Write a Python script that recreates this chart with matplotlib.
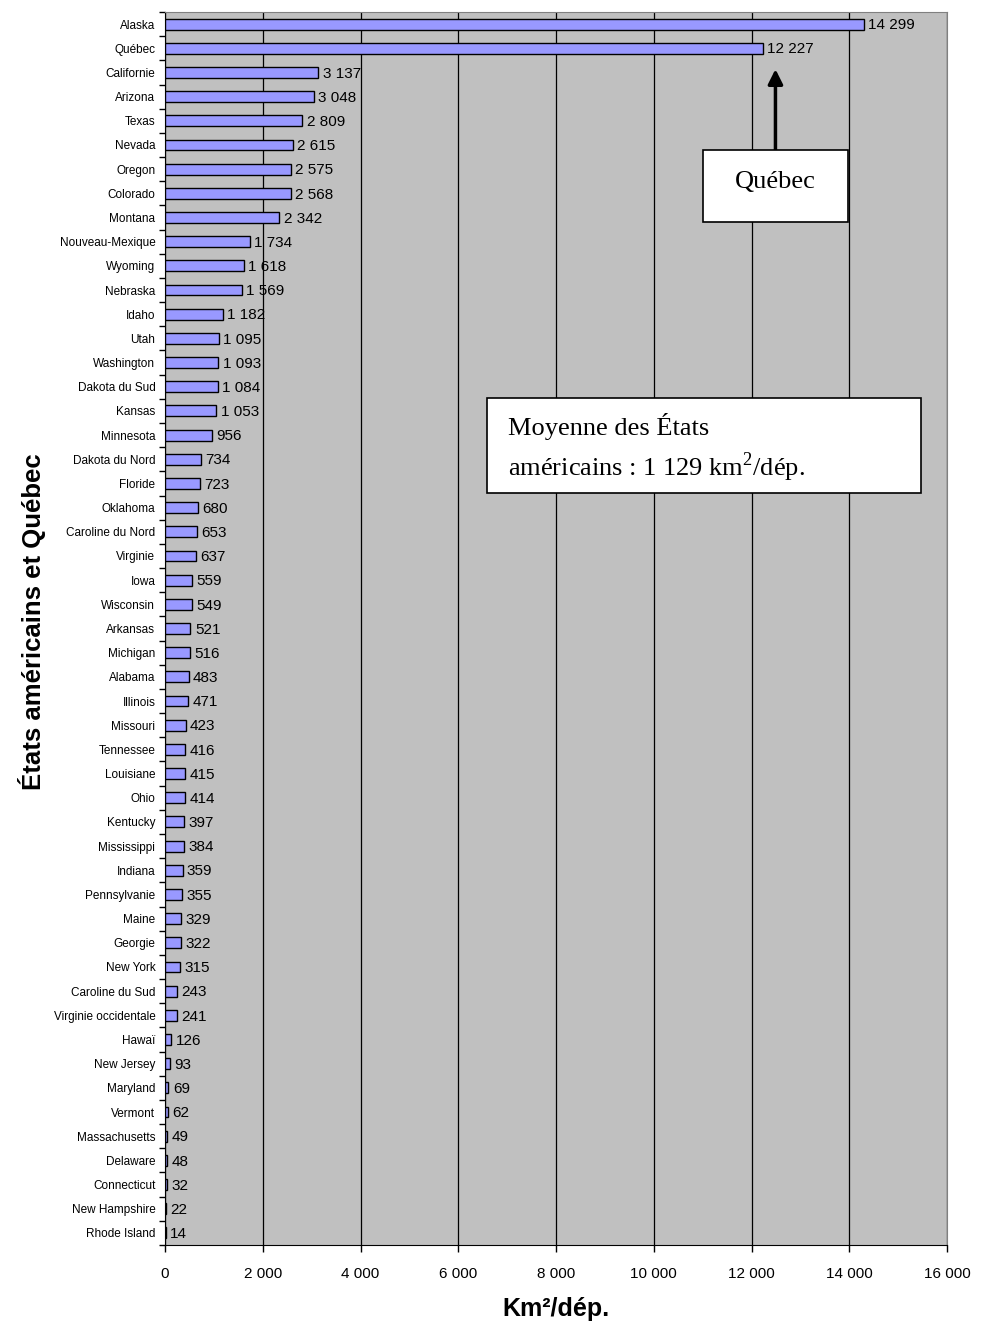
import matplotlib.pyplot as plt
import numpy as np
from matplotlib.patches import Rectangle

states = ["Alaska", "Québec", "Californie", "Arizona", "Texas", "Nevada", "Oregon",
          "Colorado", "Montana", "Nouveau-Mexique", "Wyoming", "Nebraska", "Idaho",
          "Utah", "Washington", "Dakota du Sud", "Kansas", "Minnesota", "Dakota du Nord",
          "Floride", "Oklahoma", "Caroline du Nord", "Virginie", "Iowa", "Wisconsin",
          "Arkansas", "Michigan", "Alabama", "Illinois", "Missouri", "Tennessee",
          "Louisiane", "Ohio", "Kentucky", "Mississippi", "Indiana", "Pennsylvanie",
          "Maine", "Georgie", "New York", "Caroline du Sud", "Virginie occidentale",
          "Hawaï", "New Jersey", "Maryland", "Vermont", "Massachusetts", "Delaware",
          "Connecticut", "New Hampshire", "Rhode Island"]
km2_per_dep = [14299, 12227, 3137, 3048, 2809, 2615, 2575, 2568, 2342, 1734, 1618,
               1569, 1182, 1095, 1093, 1084, 1053, 956, 734, 723, 680, 653, 637, 559,
               549, 521, 516, 483, 471, 423, 416, 415, 414, 397, 384, 359, 355, 329,
               322, 315, 243, 241, 126, 93, 69, 62, 49, 48, 32, 22, 14]
x_ticks = [0, 2000, 4000, 6000, 8000, 10000, 12000, 14000, 16000]
us_mean = 1129


def fmt(v):
    return f"{v:,}".replace(",", " ")


plt.rcParams['font.family'] = ['Liberation Sans', 'DejaVu Sans']
plt.rcParams['mathtext.fontset'] = 'custom'
plt.rcParams['mathtext.rm'] = 'Liberation Serif'

fig = plt.figure(figsize=(9.81, 13.25), dpi=100)
ax = fig.add_axes([165/981, 1 - 1245/1325, 782/981, 1233/1325])
ax.set_facecolor("#C0C0C0")

n = len(states)
y = np.arange(n)
ax.barh(y, km2_per_dep, height=0.45, color="#9999FF", edgecolor="black",
        linewidth=1, zorder=3)
for yi, v in zip(y, km2_per_dep):
    ax.text(v + 90, yi + 0.05, fmt(v), va="center", ha="left", fontsize=11, zorder=4)

ax.set_ylim(n - 0.5, -0.5)
ax.set_xlim(0, 16000)
ax.set_xticks(x_ticks)
ax.set_xticklabels([fmt(t) for t in x_ticks], fontsize=11)
ax.set_yticks(y)
ax.set_yticklabels(states, fontsize=8.5)
ax.set_yticks(np.arange(n + 1) - 0.5, minor=True)
ax.tick_params(axis="y", which="major", length=0, pad=7)
ax.tick_params(axis="y", which="minor", length=4, width=1)
ax.tick_params(axis="x", length=5, width=1, pad=11)
ax.xaxis.grid(True, color="black", linewidth=0.9, zorder=1)
ax.set_axisbelow(True)
for side in ["top", "right"]:
    ax.spines[side].set_color("#808080")
ax.spines["left"].set_color("black")
ax.spines["bottom"].set_color("black")

fig.text(556/981, 1 - 1309/1325, "Km²/dép.", fontsize=18, fontweight="bold",
         ha="center", va="center")
fig.text(32/981, 1 - 622/1325, "États américains et Québec", rotation=90,
         fontsize=18.5, fontweight="bold", ha="center", va="center")

# Québec box with arrow
fig.patches.append(Rectangle((703/981, 1 - 222/1325), 145/981, 72/1325,
                             transform=fig.transFigure, facecolor="white",
                             edgecolor="black", linewidth=1.2, zorder=5))
fig.text(775/981, 1 - 182/1325, "Québec", family="Liberation Serif", fontsize=19,
         ha="center", va="center", zorder=6)
ax.annotate("", xy=(12490, 1.75), xytext=(12490, 5.6),
            arrowprops=dict(arrowstyle="-|>", color="black", lw=2.5,
                            mutation_scale=22), zorder=5)

# mean box
fig.patches.append(Rectangle((487/981, 1 - 493/1325), 434/981, 95/1325,
                             transform=fig.transFigure, facecolor="white",
                             edgecolor="black", linewidth=1.2, zorder=5))
fig.text(508/981, 1 - 427/1325, "Moyenne des États", family="Liberation Serif",
         fontsize=19, ha="left", va="center", zorder=6)
fig.text(508/981, 1 - 467/1325,
         "américains : " + fmt(us_mean) + r" km$^{\mathrm{2}}$/dép.",
         family="Liberation Serif", fontsize=19, ha="left", va="center", zorder=6)

fig.savefig("out.png", dpi=100)
